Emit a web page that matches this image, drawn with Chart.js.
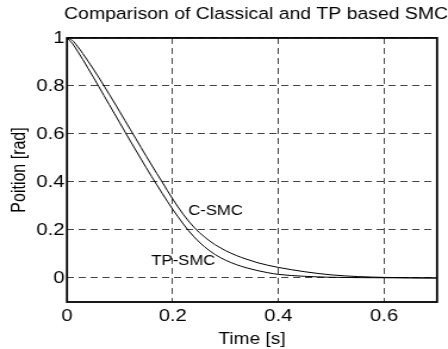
<!DOCTYPE html>
<html>
<head>
<meta charset="utf-8">
<script src="https://cdn.jsdelivr.net/npm/chart.js@4/dist/chart.umd.min.js"></script>
<style>
  html, body { margin: 0; padding: 0; background: #fff; overflow: hidden; }
  /* the source figure is stretched sideways, so draw narrow and widen it */
  #wrap { width: 376px; height: 349px; transform: scaleX(1.1915); transform-origin: 0 0; }
</style>
</head>
<body>
<div id="wrap"><canvas id="chartPosition"></canvas></div>
<script>
Chart.defaults.color = '#000';
Chart.defaults.font.family = "'Liberation Sans', Arial, sans-serif";
Chart.defaults.font.size = 16;

const TIME   = [0, 0.01, 0.02, 0.03, 0.04, 0.05, 0.06, 0.07, 0.08, 0.09,
                0.10, 0.11, 0.12, 0.13, 0.14, 0.15, 0.16, 0.17, 0.18, 0.19,
                0.20, 0.21, 0.22, 0.23, 0.24, 0.25, 0.26, 0.27, 0.28, 0.29,
                0.30, 0.32, 0.34, 0.36, 0.38, 0.40, 0.45, 0.50, 0.55, 0.60, 0.65, 0.70];
const C_SMC  = [1, 0.99, 0.965, 0.935, 0.903, 0.87, 0.836, 0.801, 0.765, 0.729,
                0.692, 0.655, 0.618, 0.581, 0.544, 0.507, 0.471, 0.435, 0.4, 0.364,
                0.329, 0.296, 0.265, 0.237, 0.212, 0.19, 0.171, 0.154, 0.139, 0.126,
                0.114, 0.094, 0.078, 0.064, 0.053, 0.044, 0.026, 0.013, 0.006, 0.0025, 0.001, 0];
const TP_SMC = [1, 0.978, 0.945, 0.91, 0.873, 0.836, 0.798, 0.76, 0.722, 0.684,
                0.646, 0.608, 0.57, 0.533, 0.496, 0.459, 0.423, 0.388, 0.353, 0.319,
                0.286, 0.255, 0.225, 0.197, 0.172, 0.15, 0.13, 0.113, 0.098, 0.085,
                0.074, 0.056, 0.042, 0.031, 0.022, 0.015, 0.007, 0.003, 0.0015, 0.001, 0.0005, 0];
const X_TICKS = [0, 0.2, 0.4, 0.6];
const Y_TICKS = [0, 0.2, 0.4, 0.6, 0.8, 1];

// text put next to each curve, in data units [time, position]
const CURVE_NAMES = ['C-SMC', 'TP-SMC'];
const NAME_AT     = [[0.281, 0.277], [0.22, 0.072]];

const toPoints = ys => TIME.map((t, i) => ({ x: t, y: ys[i] }));

// box round the plot, like the matlab axes
const frame = {
    id: 'frame',
    afterDatasetsDraw(chart) {
        const { ctx, chartArea: a } = chart;
        ctx.save();
        ctx.strokeStyle = '#000';
        ctx.lineWidth = 1.8;
        ctx.strokeRect(a.left, a.top, a.right - a.left, a.bottom - a.top);
        ctx.restore();
    }
};

// curve names written inside the plot
const curveNames = {
    id: 'curveNames',
    afterDatasetsDraw(chart) {
        const { ctx, scales: { x, y } } = chart;
        ctx.save();
        ctx.fillStyle = '#000';
        ctx.font = "14px 'Liberation Sans', Arial, sans-serif";
        ctx.textAlign = 'center';
        ctx.textBaseline = 'middle';
        CURVE_NAMES.forEach((name, i) => {
            ctx.fillText(name, x.getPixelForValue(NAME_AT[i][0]), y.getPixelForValue(NAME_AT[i][1]));
        });
        ctx.restore();
    }
};

const gridOpts = { color: '#444', lineWidth: 1, drawTicks: false };
const borderOpts = { display: false, dash: [6, 4] };

new Chart(document.getElementById('chartPosition'), {
    type: 'line',
    data: {
        datasets: [
            { label: 'C-SMC',  data: toPoints(C_SMC),  borderColor: '#000', borderWidth: 1, pointRadius: 0, cubicInterpolationMode: 'monotone' },
            { label: 'TP-SMC', data: toPoints(TP_SMC), borderColor: '#000', borderWidth: 1, pointRadius: 0, cubicInterpolationMode: 'monotone' }
        ]
    },
    options: {
        responsive: true,
        maintainAspectRatio: false,
        animation: false,
        layout: { padding: 0 },
        plugins: {
            legend: { display: false },
            tooltip: { enabled: false },
            title: {
                display: true,
                text: 'Comparison of Classical and TP based SMC',
                align: 'end',
                color: '#000',
                font: { size: 16.3, weight: 'normal' },
                padding: { top: 4.3, bottom: 14.1 }
            }
        },
        scales: {
            x: {
                type: 'linear',
                min: 0,
                max: 0.7,
                afterBuildTicks: s => { s.ticks = X_TICKS.map(value => ({ value })); },
                afterFit: s => { s.height = 47; },
                grid: gridOpts,
                border: borderOpts,
                ticks: { padding: 4, font: { size: 17 }, maxRotation: 0, autoSkip: false, callback: v => String(v) },
                title: { display: true, text: 'Time [s]', padding: { top: 0, bottom: 0 } }
            },
            y: {
                type: 'linear',
                min: -0.1,
                max: 1,
                afterBuildTicks: s => { s.ticks = Y_TICKS.map(value => ({ value })); },
                afterFit: s => { s.width = 56.2; },
                grid: gridOpts,
                border: borderOpts,
                ticks: { padding: 2, font: { size: 17 }, autoSkip: false, callback: v => String(v) },
                title: { display: true, text: 'Poition [rad]', padding: { top: 7, bottom: 0 } }
            },
            // empty strip on the right so the title can reach the edge
            yRight: {
                position: 'right',
                afterFit: s => { s.width = 9.2; },
                grid: { display: false },
                border: { display: false },
                ticks: { display: false }
            }
        }
    },
    plugins: [frame, curveNames]
});
</script>
</body>
</html>
